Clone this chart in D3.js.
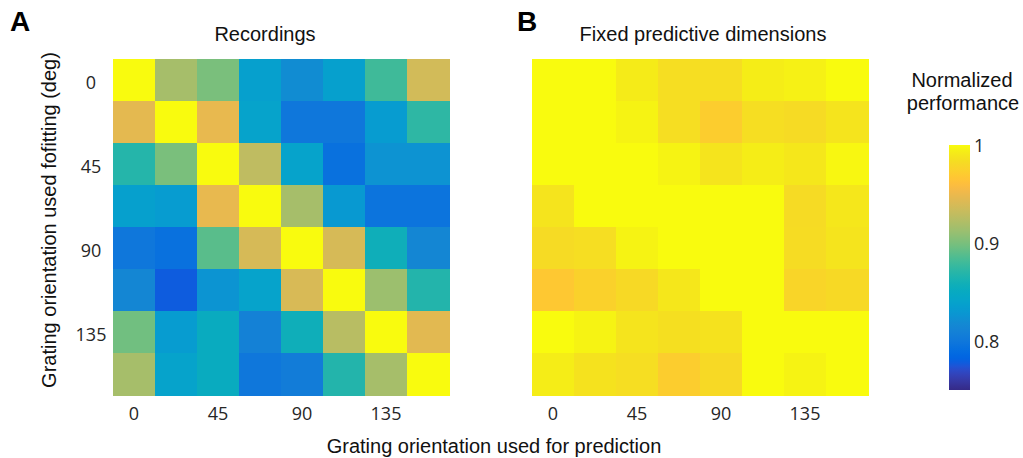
<!DOCTYPE html>
<html>
<head>
<meta charset="utf-8">
<script src="https://cdn.jsdelivr.net/npm/d3@7"></script>
<style>
  body { margin: 0; background: #fff; }
  svg { display: block; }
  .tick text { font-family: "Open Sans", sans-serif; font-size: 18px; fill: #262626; }
  .lbl { font-family: "Liberation Sans", Arial, sans-serif; font-size: 20px; fill: #111; }
  .panel { font-family: "Liberation Sans", Arial, sans-serif; font-size: 28px; font-weight: bold; fill: #000; }
</style>
</head>
<body>
<svg id="chart" width="1023" height="458"></svg>
<script>
// Grating orientations (deg) used for fitting (rows) and prediction (columns)
const orientations = [0, 22.5, 45, 67.5, 90, 112.5, 135, 157.5];
const tickLabels = [0, 45, 90, 135];
const colorbarTicks = [0.8, 0.9, 1];
const colorDomain = [0.75, 1];

// Normalized performance, recordings
const recordings = [
  [1.000, 0.917, 0.900, 0.837, 0.820, 0.837, 0.880, 0.937],
  [0.946, 1.000, 0.948, 0.840, 0.800, 0.800, 0.833, 0.873],
  [0.869, 0.900, 1.000, 0.928, 0.840, 0.794, 0.825, 0.825],
  [0.837, 0.833, 0.948, 1.000, 0.917, 0.830, 0.797, 0.797],
  [0.800, 0.794, 0.889, 0.939, 1.000, 0.939, 0.857, 0.815],
  [0.815, 0.778, 0.826, 0.840, 0.940, 1.000, 0.913, 0.868],
  [0.897, 0.833, 0.852, 0.810, 0.857, 0.925, 1.000, 0.945],
  [0.917, 0.840, 0.852, 0.800, 0.805, 0.868, 0.917, 1.000]
];

// Normalized performance, fixed predictive dimensions
const fixedDimensions = [
  [1.000, 1.000, 0.992, 0.984, 0.984, 0.993, 0.995, 1.000],
  [1.000, 1.000, 0.996, 0.984, 0.972, 0.984, 0.982, 0.988],
  [1.000, 1.000, 1.000, 0.996, 0.988, 0.993, 0.990, 0.998],
  [0.988, 1.000, 1.000, 1.000, 1.000, 1.000, 0.982, 0.990],
  [0.982, 0.984, 0.996, 1.000, 1.000, 1.000, 0.983, 0.988],
  [0.968, 0.975, 0.981, 0.990, 1.000, 1.000, 0.978, 0.981],
  [1.000, 0.996, 0.988, 0.985, 0.987, 1.000, 1.000, 1.000],
  [0.993, 0.987, 0.984, 0.972, 0.981, 1.000, 0.996, 1.000]
];

// Parula colormap (64 entries)
const parulaRGB = [
[0.2081,0.1663,0.5292],[0.2116,0.1898,0.5777],[0.2123,0.2138,0.6270],[0.2081,0.2386,0.6771],
[0.1959,0.2645,0.7279],[0.1707,0.2919,0.7792],[0.1253,0.3242,0.8303],[0.0591,0.3598,0.8683],
[0.0117,0.3875,0.8820],[0.0060,0.4086,0.8828],[0.0165,0.4266,0.8786],[0.0329,0.4430,0.8720],
[0.0498,0.4586,0.8641],[0.0629,0.4737,0.8554],[0.0723,0.4887,0.8467],[0.0779,0.5040,0.8384],
[0.0793,0.5200,0.8312],[0.0749,0.5375,0.8263],[0.0641,0.5570,0.8240],[0.0488,0.5772,0.8228],
[0.0343,0.5966,0.8199],[0.0265,0.6137,0.8135],[0.0239,0.6287,0.8038],[0.0231,0.6418,0.7913],
[0.0228,0.6535,0.7768],[0.0267,0.6642,0.7607],[0.0384,0.6743,0.7436],[0.0590,0.6838,0.7254],
[0.0843,0.6928,0.7062],[0.1133,0.7015,0.6859],[0.1453,0.7098,0.6646],[0.1801,0.7177,0.6424],
[0.2178,0.7250,0.6193],[0.2586,0.7317,0.5954],[0.3022,0.7376,0.5712],[0.3482,0.7424,0.5473],
[0.3953,0.7459,0.5244],[0.4420,0.7481,0.5033],[0.4871,0.7491,0.4840],[0.5300,0.7491,0.4661],
[0.5709,0.7485,0.4494],[0.6099,0.7473,0.4337],[0.6473,0.7456,0.4188],[0.6834,0.7435,0.4044],
[0.7184,0.7411,0.3905],[0.7525,0.7384,0.3768],[0.7858,0.7356,0.3633],[0.8185,0.7327,0.3498],
[0.8507,0.7299,0.3360],[0.8824,0.7274,0.3217],[0.9139,0.7258,0.3063],[0.9450,0.7261,0.2886],
[0.9739,0.7314,0.2666],[0.9938,0.7455,0.2403],[0.9990,0.7653,0.2164],[0.9955,0.7861,0.1967],
[0.9880,0.8066,0.1794],[0.9789,0.8271,0.1633],[0.9697,0.8481,0.1475],[0.9626,0.8705,0.1309],
[0.9589,0.8949,0.1132],[0.9598,0.9218,0.0948],[0.9661,0.9514,0.0755],[0.9763,0.9831,0.0538]
];
const parula = d3.piecewise(d3.interpolateRgb,
  parulaRGB.map(c => d3.rgb(c[0] * 255, c[1] * 255, c[2] * 255)));
const color = d3.scaleSequential(parula).domain(colorDomain).clamp(true);

const svg = d3.select("#chart");

const panels = [
  { data: recordings, x0: 113, title: "Recordings", titleX: 265, letter: "A", letterX: 10, yAxis: true },
  { data: fixedDimensions, x0: 532, title: "Fixed predictive dimensions", titleX: 703, letter: "B", letterX: 517, yAxis: false }
];
const gridSize = 336, gridTop = 59;

const y = d3.scaleBand().domain(orientations).range([gridTop, gridTop + gridSize]);

panels.forEach(p => {
  const x = d3.scaleBand().domain(orientations).range([p.x0, p.x0 + gridSize]);
  const g = svg.append("g");
  const cells = [];
  p.data.forEach((row, i) => row.forEach((v, j) =>
    cells.push({ fit: orientations[i], pred: orientations[j], v })));
  g.selectAll("rect").data(cells).join("rect")
    .attr("x", d => x(d.pred))
    .attr("y", d => y(d.fit))
    .attr("width", x.bandwidth() + 0.5)
    .attr("height", y.bandwidth() + 0.5)
    .attr("fill", d => color(d.v))
    .attr("shape-rendering", "crispEdges");

  const xa = svg.append("g")
    .attr("transform", `translate(0,${gridTop + gridSize})`)
    .call(d3.axisBottom(x).tickValues(tickLabels).tickSize(0).tickPadding(12));
  xa.select(".domain").remove();
  xa.selectAll("text").attr("font-family", null).attr("font-size", null);

  if (p.yAxis) {
    const ya = svg.append("g")
      .attr("transform", `translate(${p.x0},0)`)
      .call(d3.axisLeft(y).tickValues(tickLabels).tickSize(0));
    ya.select(".domain").remove();
    ya.selectAll("text")
      .attr("font-family", null).attr("font-size", null)
      .attr("text-anchor", "middle").attr("x", -22).attr("dy", "0.5em");
  }

  svg.append("text").attr("class", "lbl")
    .attr("x", p.titleX).attr("y", 41).attr("text-anchor", "middle").text(p.title);
  svg.append("text").attr("class", "panel")
    .attr("x", p.letterX).attr("y", 31).text(p.letter);
});

// Shared axis titles
svg.append("text").attr("class", "lbl")
  .attr("transform", "translate(56,220) rotate(-90)")
  .attr("text-anchor", "middle")
  .text("Grating orientation used fofitting (deg)");
svg.append("text").attr("class", "lbl")
  .attr("x", 494).attr("y", 453).attr("text-anchor", "middle")
  .text("Grating orientation used for prediction");

// Colorbar
const cbX = 949, cbW = 21;
const cbScale = d3.scaleLinear().domain(colorDomain).range([390, 145]);
const defs = svg.append("defs");
const grad = defs.append("linearGradient").attr("id", "cbgrad")
  .attr("x1", 0).attr("y1", 1).attr("x2", 0).attr("y2", 0);
d3.range(0, 1.0001, 1 / 63).forEach(t => {
  grad.append("stop").attr("offset", t).attr("stop-color", parula(Math.min(t, 1)));
});
svg.append("rect")
  .attr("x", cbX).attr("y", cbScale(colorDomain[1]))
  .attr("width", cbW).attr("height", cbScale(colorDomain[0]) - cbScale(colorDomain[1]))
  .attr("fill", "url(#cbgrad)");
const cba = svg.append("g")
  .attr("transform", `translate(${cbX + cbW},0)`)
  .call(d3.axisRight(cbScale).tickValues(colorbarTicks).tickSize(0).tickPadding(4)
    .tickFormat(d3.format("")));
cba.select(".domain").remove();
cba.selectAll("text").attr("font-family", null).attr("font-size", null).attr("dy", "0.36em");

svg.append("text").attr("class", "lbl")
  .attr("x", 962).attr("y", 87).attr("text-anchor", "middle").text("Normalized");
svg.append("text").attr("class", "lbl")
  .attr("x", 963).attr("y", 110).attr("text-anchor", "middle").text("performance");
</script>
</body>
</html>
